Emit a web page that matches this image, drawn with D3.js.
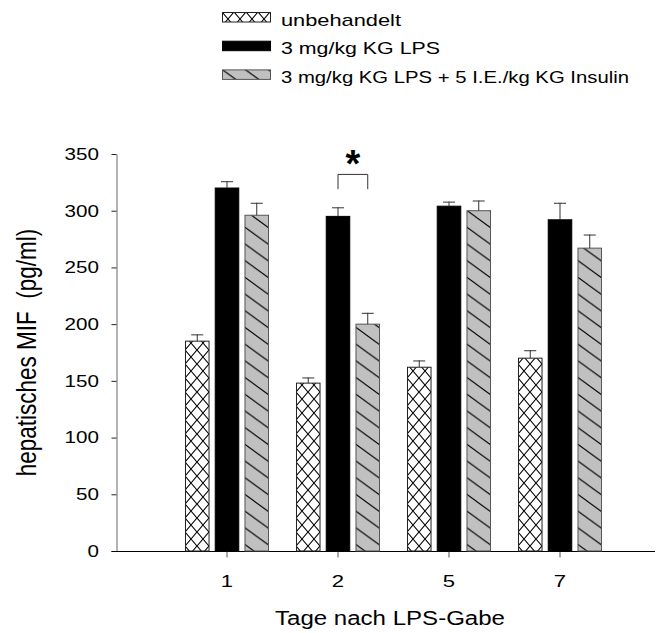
<!DOCTYPE html>
<html>
<head>
<meta charset="utf-8">
<script src="https://cdn.jsdelivr.net/npm/d3@7/dist/d3.min.js"></script>
<style>
  html, body { margin: 0; padding: 0; background: #fff; }
  svg { display: block; font-family: "Liberation Sans", Arial, sans-serif; }
</style>
</head>
<body>
<svg id="chart" width="656" height="633"></svg>
<script>
// Days after LPS administration
const days = ["1", "2", "5", "7"];
const seriesNames = [
  "unbehandelt",
  "3 mg/kg KG LPS",
  "3 mg/kg KG LPS + 5 I.E./kg KG Insulin"
];
// Hepatic MIF (pg/ml), means and error (SEM) per day
const untreated = [185, 148, 162, 170];
const untreatedErr = [6, 5, 6, 7];
const lps = [320, 295, 304, 292];
const lpsErr = [6, 8, 4, 15];
const lpsInsulin = [296, 200, 300, 267];
const lpsInsulinErr = [11, 10, 9, 12];
const yTicks = [0, 50, 100, 150, 200, 250, 300, 350];
// Significance bracket: day 2, LPS vs LPS + insulin
const sigDay = "2";
const sigPair = [1, 2];
const sigTop = 332;
const sigLeg = 319;
const sigLabel = "*";

const seriesValues = [untreated, lps, lpsInsulin];
const seriesErrors = [untreatedErr, lpsErr, lpsInsulinErr];
const fills = ["url(#crossHatch)", "#000", "url(#diagHatch)"];
const strokes = ["#222", "#000", "#555"];
const FONT = "Liberation Sans, Arial, sans-serif";
const WIDE = 1.25; // horizontal stretch of the lettering

const svg = d3.select("#chart");

// Fill patterns
const defs = svg.append("defs");
const cross = defs.append("pattern")
  .attr("id", "crossHatch").attr("patternUnits", "userSpaceOnUse")
  .attr("width", 12).attr("height", 14).attr("x", 0).attr("y", 0);
cross.append("rect").attr("width", 12).attr("height", 14).attr("fill", "#fff");
cross.append("path").attr("d", "M0,0L12,14M12,0L0,14")
  .attr("stroke", "#000").attr("stroke-width", 1.1).attr("fill", "none");

const diag = defs.append("pattern")
  .attr("id", "diagHatch").attr("patternUnits", "userSpaceOnUse")
  .attr("width", 23).attr("height", 16.7);
diag.append("rect").attr("width", 23).attr("height", 16.7).attr("fill", "#c0c0c0");
diag.append("path").attr("d", "M0,0L23,16.7M-23,0L0,16.7M23,0L46,16.7M0,-16.7L23,0M0,16.7L23,33.4")
  .attr("stroke", "#000").attr("stroke-width", 1.1).attr("fill", "none");

// Scales
const y = d3.scaleLinear().domain([0, 350]).range([551, 154]);
const x = d3.scaleBand().domain(days).range([171.5, 615.5])
  .paddingInner(0.243).paddingOuter(0.1215);
const x1 = d3.scaleBand().domain(d3.range(seriesNames.length))
  .range([0, x.bandwidth()]).paddingInner(0.175).paddingOuter(0);

// Axes
const yAxis = svg.append("g").attr("transform", "translate(116.5,0)")
  .call(d3.axisLeft(y).tickValues(yTicks).tickSize(5).tickSizeOuter(0).tickPadding(13));
yAxis.select(".domain").attr("stroke", "#666");
yAxis.selectAll(".tick line").attr("stroke", "#222");
yAxis.selectAll("text").attr("font-size", 16.5).attr("fill", "#000")
  .attr("font-family", FONT)
  .attr("x", -17.5 / WIDE).attr("transform", `scale(${WIDE},1)`);

svg.append("line").attr("x1", 111.5).attr("x2", 655).attr("y1", y(0) + 0.5).attr("y2", y(0) + 0.5)
  .attr("stroke", "#000");
const xAxis = svg.append("g").attr("transform", `translate(0,${y(0) + 0.5})`)
  .call(d3.axisBottom(x).tickSize(6).tickSizeOuter(0).tickPadding(17));
xAxis.select(".domain").remove();
xAxis.selectAll(".tick line").attr("stroke", "#555");
xAxis.selectAll("text").attr("font-size", 17).attr("fill", "#000")
  .attr("font-family", FONT).attr("transform", `scale(${WIDE + 0.05},1)`);

// Bars
const groups = svg.append("g").selectAll("g").data(days).join("g")
  .attr("transform", d => `translate(${x(d)},0)`);

seriesNames.forEach((name, s) => {
  groups.append("rect")
    .attr("x", x1(s) + 0.5)
    .attr("y", (d, i) => y(seriesValues[s][i]))
    .attr("width", x1.bandwidth() - 1)
    .attr("height", (d, i) => y(0) - y(seriesValues[s][i]))
    .attr("fill", fills[s])
    .attr("stroke", strokes[s])
    .attr("stroke-width", 1);
  // Error bars (upper)
  groups.append("line")
    .attr("x1", x1(s) + x1.bandwidth() / 2).attr("x2", x1(s) + x1.bandwidth() / 2)
    .attr("y1", (d, i) => y(seriesValues[s][i]))
    .attr("y2", (d, i) => y(seriesValues[s][i] + seriesErrors[s][i]))
    .attr("stroke", "#333").attr("stroke-width", 1);
  groups.append("line")
    .attr("x1", x1(s) + x1.bandwidth() / 2 - 6).attr("x2", x1(s) + x1.bandwidth() / 2 + 6)
    .attr("y1", (d, i) => y(seriesValues[s][i] + seriesErrors[s][i]) + 0.5)
    .attr("y2", (d, i) => y(seriesValues[s][i] + seriesErrors[s][i]) + 0.5)
    .attr("stroke", "#333").attr("stroke-width", 1);
});

// Significance bracket
const bx0 = x(sigDay) + x1(sigPair[0]) + x1.bandwidth() / 2;
const bx1 = x(sigDay) + x1(sigPair[1]) + x1.bandwidth() / 2;
svg.append("path")
  .attr("d", `M${bx0},${y(sigLeg)}V${y(sigTop)}H${bx1}V${y(sigLeg)}`)
  .attr("fill", "none").attr("stroke", "#333").attr("stroke-width", 1);
svg.append("text")
  .attr("x", (bx0 + bx1) / 2).attr("y", y(sigTop) + 3)
  .attr("text-anchor", "middle").attr("font-size", 38).attr("font-weight", "bold")
  .text(sigLabel);

// Axis titles
svg.append("text")
  .attr("x", 390).attr("y", 625).attr("text-anchor", "middle").attr("font-size", 20)
  .attr("textLength", 230).attr("lengthAdjust", "spacingAndGlyphs")
  .text("Tage nach LPS-Gabe");
svg.append("text")
  .attr("transform", `translate(36,${(y(0) + y(350)) / 2}) scale(1.2,1) rotate(-90)`)
  .attr("text-anchor", "middle").attr("font-size", 22.5)
  .style("white-space", "pre")
  .text("hepatisches MIF  (pg/ml)");

// Legend
const legendWidths = [120, 159, 348];
const legend = svg.append("g").selectAll("g").data(seriesNames).join("g")
  .attr("transform", (d, i) => `translate(222,${12 + i * 28.7})`);
legend.append("rect")
  .attr("x", 0.5).attr("y", 0.5).attr("width", 48).attr("height", 9.5)
  .attr("fill", (d, i) => fills[i]).attr("stroke", (d, i) => strokes[i]);
legend.append("text")
  .attr("x", 59).attr("y", 13.5).attr("font-size", 17)
  .attr("textLength", (d, i) => legendWidths[i]).attr("lengthAdjust", "spacingAndGlyphs")
  .text(d => d);
</script>
</body>
</html>
